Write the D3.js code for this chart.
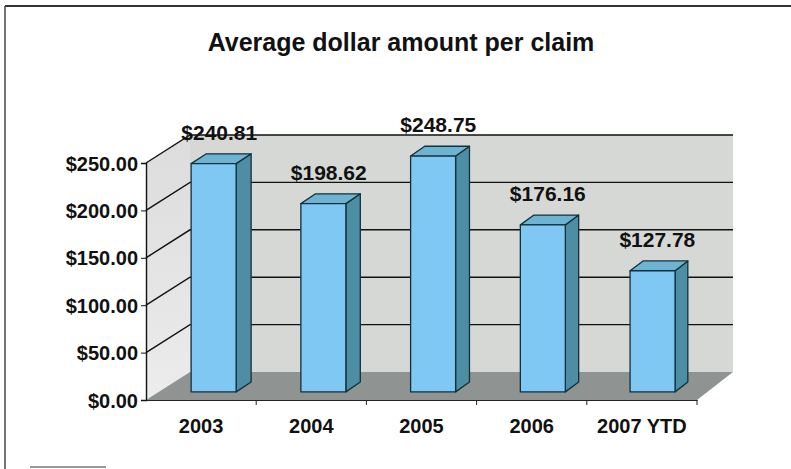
<!DOCTYPE html>
<html>
<head>
<meta charset="utf-8">
<script src="https://cdn.jsdelivr.net/npm/d3@7"></script>
<style>
  body { margin: 0; background: #fff; }
  text { font-family: "Liberation Sans", Arial, sans-serif; font-weight: bold; fill: #111; }
</style>
</head>
<body>
<script>
const W = 791, H = 469;

const categories = ["2003", "2004", "2005", "2006", "2007 YTD"];
const values = [240.81, 198.62, 248.75, 176.16, 127.78];
const yTicks = [0, 50, 100, 150, 200, 250];

const fmt = d3.format("$.2f");

// front plane and back wall of the 3d box
const xFront = d3.scaleBand().domain(categories).range([146, 697]);
const xBack = d3.scaleBand().domain(categories).range([190, 733]);
const yFront = d3.scaleLinear().domain([0, 250]).range([400, 163]);
const DY = -28; // vertical shift from front to back

// project a point: category, fraction inside band, value, depth 0..1
function P(cat, f, v, t) {
  const xf = xFront(cat) + f * xFront.bandwidth();
  const xb = xBack(cat) + f * xBack.bandwidth();
  return [xf + (xb - xf) * t, yFront(v) + DY * t];
}
const first = categories[0], last = categories[categories.length - 1];
const line = d3.line();

const svg = d3.select("body").append("svg")
  .attr("width", W).attr("height", H);

// frame
svg.append("line").attr("x1", 5).attr("x2", W).attr("y1", 6).attr("y2", 6)
  .attr("stroke", "#333").attr("stroke-width", 2);
svg.append("line").attr("x1", 5).attr("x2", 5).attr("y1", 6).attr("y2", H)
  .attr("stroke", "#444").attr("stroke-width", 1.5);
svg.append("line").attr("x1", 30).attr("x2", 106).attr("y1", 467).attr("y2", 467)
  .attr("stroke", "#777").attr("stroke-width", 1.5);

// title
svg.append("text").attr("x", 401).attr("y", 51).attr("text-anchor", "middle")
  .style("font-size", "25px").text("Average dollar amount per claim");

const yMax = yTicks[yTicks.length - 1];

// side wall, lighter towards the bottom
const grad = svg.append("defs").append("linearGradient").attr("id", "side")
  .attr("x1", 0).attr("y1", 0).attr("x2", 0).attr("y2", 1);
grad.append("stop").attr("offset", "0%").attr("stop-color", "#dcdcdc");
grad.append("stop").attr("offset", "100%").attr("stop-color", "#ececec");
svg.append("path")
  .attr("d", line([P(first, 0, 0, 0), P(first, 0, yMax, 0), P(first, 0, yMax, 1), P(first, 0, 0, 1)]) + "Z")
  .attr("fill", "url(#side)");
// back wall
svg.append("path")
  .attr("d", line([P(first, 0, 0, 1), P(first, 0, yMax, 1), P(last, 1, yMax, 1), P(last, 1, 0, 1)]) + "Z")
  .attr("fill", "#d6d8d6");
// floor
svg.append("path")
  .attr("d", line([P(first, 0, 0, 0), P(last, 1, 0, 0), P(last, 1, 0, 1), P(first, 0, 0, 1)]) + "Z")
  .attr("fill", "#8f9391");

// gridlines
const grid = svg.append("g").attr("stroke", "#111").attr("stroke-width", 1.4).attr("fill", "none");
yTicks.filter(v => v > 0).forEach(v => {
  grid.append("path").attr("d", line([P(first, 0, v, 0), P(first, 0, v, 1), P(last, 1, v, 1)]));
});

// y axis
const yAxis = svg.append("g").attr("transform", "translate(146,0)")
  .call(d3.axisLeft(yFront).tickValues(yTicks).tickFormat(fmt).tickSize(5).tickPadding(3));
yAxis.select(".domain").attr("stroke", "#111").attr("stroke-width", 1.4);
yAxis.selectAll(".tick line").attr("stroke", "#111");
yAxis.selectAll("text").style("font-size", "20px").attr("fill", "#111").attr("dy", "0.35em");

// x axis on floor front edge
const xAxis = svg.append("g").attr("transform", `translate(0,${yFront(0)})`)
  .call(d3.axisBottom(xFront).tickSize(0).tickPadding(19));
xAxis.select(".domain").attr("stroke", "#222").attr("stroke-width", 1.2);
xAxis.selectAll("text").style("font-size", "20px").attr("fill", "#111");
svg.append("g").selectAll("line").data(categories).join("line")
  .attr("x1", d => xFront(d) + xFront.bandwidth()).attr("x2", d => xFront(d) + xFront.bandwidth())
  .attr("y1", yFront(0)).attr("y2", yFront(0) + 5)
  .attr("stroke", "#222");

// bars
const f0 = 0.295, f1 = 0.705, t0 = 0.29, t1 = 0.64;
const bars = svg.append("g").selectAll("g").data(categories).join("g")
  .attr("stroke", "#12303c").attr("stroke-width", 1.3).attr("stroke-linejoin", "round");
bars.append("path").attr("fill", "#4d8ea5")
  .attr("d", (c, i) => line([P(c, f1, 0, t0), P(c, f1, values[i], t0), P(c, f1, values[i], t1), P(c, f1, 0, t1)]) + "Z");
bars.append("path").attr("fill", "#6fb3d2")
  .attr("d", (c, i) => line([P(c, f0, values[i], t0), P(c, f1, values[i], t0), P(c, f1, values[i], t1), P(c, f0, values[i], t1)]) + "Z");
bars.append("path").attr("fill", "#80c8f4")
  .attr("d", (c, i) => line([P(c, f0, 0, t0), P(c, f0, values[i], t0), P(c, f1, values[i], t0), P(c, f1, 0, t0)]) + "Z");

// value labels
svg.append("g").selectAll("text").data(categories).join("text")
  .attr("x", c => P(c, 0.5, 0, 0.42)[0])
  .attr("y", (c, i) => yFront(values[i]) - 32)
  .attr("text-anchor", "middle")
  .style("font-size", "21px")
  .text((c, i) => fmt(values[i]));
</script>
</body>
</html>
